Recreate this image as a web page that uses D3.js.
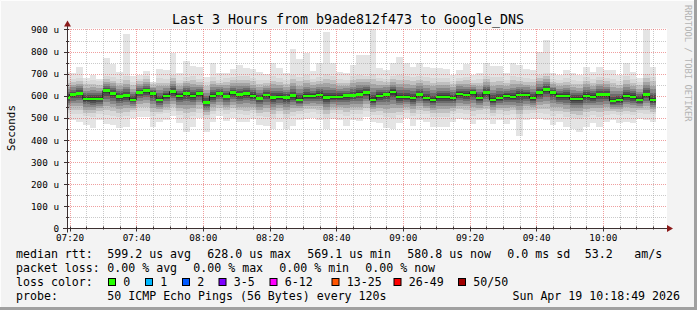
<!DOCTYPE html>
<html lang="en">
<head>
<meta charset="UTF-8">
<title>Last 3 Hours from b9ade812f473 to Google_DNS</title>
<script src="https://cdn.jsdelivr.net/npm/d3@7/dist/d3.min.js"></script>
<style>
  html, body { margin: 0; background: #f3f3f3; }
  svg { display: block; }
  text { font-family: 'DejaVu Sans Mono', monospace; fill: #000; }
</style>
</head>
<body>
<script>
  // canvas
  const width = 697
  const height = 310
  const plot = { left: 67, right: 667, top: 28.5, bottom: 228.5 }

  // median rtt per 2-minute slot (microseconds), first slot is partial
  const median = [
    591.7,
    605.3, 611.3, 585.7, 585.7, 585.7, 623.4, 609.8, 596.3, 600.8, 581.0,
    614.3, 623.4, 609.8, 581.0, 599.3, 618.9, 599.3, 609.8, 599.3, 609.8,
    569.1, 599.3, 609.8, 596.3, 614.3, 605.3, 609.8, 599.3, 587.2, 603.8,
    591.7, 594.7, 591.7, 600.8, 581.0, 599.3, 599.3, 603.8, 591.7, 594.7,
    594.7, 600.8, 600.8, 606.8, 614.3, 581.0, 599.3, 605.3, 617.4, 594.7,
    594.7, 590.2, 605.3, 590.2, 581.0, 594.7, 594.7, 590.2, 608.3, 603.8,
    614.3, 590.2, 614.3, 581.0, 590.2, 599.3, 594.7, 603.8, 603.8, 590.2,
    614.3, 628.0, 614.3, 599.3, 599.3, 585.7, 585.7, 599.3, 594.7, 605.3,
    605.3, 576.6, 581.0, 599.3, 594.7, 581.0, 605.3, 580.8
  ]
  // slowest ping of each slot
  const pingMax = [
    709,
    702, 732, 679, 694, 675, 773, 742, 709, 878, 690,
    694, 714, 664, 720, 717, 795, 705, 759, 735, 732,
    687, 747, 702, 705, 720, 739, 727, 720, 709, 699,
    750, 724, 705, 810, 765, 795, 714, 747, 890, 747,
    709, 705, 739, 785, 785, 905, 724, 717, 747, 777,
    750, 732, 747, 732, 727, 727, 720, 694, 717, 742,
    694, 702, 750, 735, 735, 702, 747, 739, 720, 717,
    800, 853, 702, 694, 717, 702, 694, 732, 709, 732,
    717, 717, 694, 750, 709, 679, 905, 732
  ]
  // upper edge of the dense smoke
  const pingHi = [
    672,
    676, 680, 668, 672, 666, 690, 684, 675, 688, 664,
    678, 688, 662, 680, 674, 695, 672, 684, 690, 676,
    664, 686, 672, 680, 684, 690, 688, 682, 672, 670,
    688, 680, 670, 694, 686, 692, 676, 684, 698, 688,
    676, 672, 690, 694, 690, 700, 682, 676, 690, 692,
    688, 684, 690, 684, 680, 682, 680, 668, 682, 686,
    670, 676, 690, 684, 684, 672, 688, 684, 680, 678,
    696, 704, 674, 670, 680, 672, 668, 686, 676, 686,
    680, 678, 668, 690, 676, 664, 700, 686
  ]
  // lower edge of the dense smoke
  const pingLo = [
    522,
    520, 516, 508, 504, 520, 512, 510, 504, 508, 526,
    532, 530, 508, 516, 522, 530, 514, 500, 510, 524,
    498, 516, 530, 518, 526, 516, 514, 522, 508, 506,
    500, 516, 500, 508, 520, 524, 528, 520, 500, 522,
    520, 510, 520, 516, 530, 514, 512, 502, 500, 512,
    524, 508, 520, 516, 506, 506, 506, 516, 522, 520,
    510, 520, 520, 510, 520, 512, 520, 496, 520, 522,
    522, 520, 508, 516, 506, 500, 496, 506, 514, 506,
    514, 520, 512, 516, 512, 522, 520, 516
  ]
  // fastest ping of each slot
  const pingMin = [
    491,
    491, 483, 468, 456, 491, 471, 468, 453, 461, 498,
    505, 506, 461, 480, 491, 509, 476, 435, 461, 498,
    438, 483, 509, 486, 501, 483, 483, 494, 468, 464,
    448, 483, 448, 464, 491, 495, 501, 491, 448, 495,
    491, 465, 491, 488, 506, 483, 476, 453, 448, 476,
    498, 464, 491, 483, 458, 458, 458, 483, 495, 491,
    473, 491, 491, 473, 491, 473, 491, 420, 491, 495,
    495, 491, 468, 483, 458, 448, 435, 458, 476, 458,
    480, 491, 476, 483, 476, 495, 491, 483
  ]

  const firstSlot = Date.UTC(2026, 3, 19, 7, 18)
  const stepMs = 120 * 1000
  const yTicks = [0, 100, 200, 300, 400, 500, 600, 700, 800, 900]

  const lossColors = ['#26ff00', '#00b8ff', '#0059ff', '#7e00ff', '#ff00ff', '#ff5500', '#ff0000', '#a10000']
  const lossLabels = ['0', '1', '2', '3-5', '6-12', '13-25', '26-49', '50/50']
  const lossSwatchX = [108.5, 145.5, 182.5, 219, 270, 332, 394, 458.5]

  const rttStats = ['599.2 us avg', '628.0 us max', '569.1 us min', '580.8 us now', '0.0 ms sd', '53.2', 'am/s']
  const rttStatX = [107.3, 207.3, 307.3, 407.3, 507.3, 584.7, 634.3]
  const lossStats = ['0.00 % avg', '0.00 % max', '0.00 % min', '0.00 % now']
  const lossStatX = [107.3, 193.3, 279.3, 365.3]

  const svg = d3.select('body').append('svg')
    .attr('width', width)
    .attr('height', height)

  // background and bevel frame
  svg.append('rect').attr('width', width).attr('height', height).attr('fill', '#f3f3f3')
  svg.append('path').attr('d', `M0.5,${height} V0.5 H${width}`)
    .attr('fill', 'none').attr('stroke', '#fdfdfd')
  svg.append('path').attr('d', `M0,${height - 1.5} H${width - 1.5} V0`)
    .attr('fill', 'none').attr('stroke', '#a0a0a0').attr('stroke-width', 3)

  // plot canvas
  svg.append('rect')
    .attr('x', plot.left).attr('y', plot.top)
    .attr('width', plot.right - plot.left).attr('height', plot.bottom - plot.top)
    .attr('fill', '#fff')

  // scales
  const xScale = d3.scaleUtc()
    .domain([Date.UTC(2026, 3, 19, 7, 19, 15), Date.UTC(2026, 3, 19, 10, 19, 15)])
    .range([plot.left, plot.right])

  const yScale = d3.scaleLinear()
    .domain([0, 904.5])
    .range([plot.bottom, plot.top])

  const slotX0 = i => Math.max(plot.left, xScale(firstSlot + i * stepMs))
  const slotX1 = i => xScale(firstSlot + (i + 1) * stepMs)
  const yClip = v => Math.max(plot.top, yScale(v))

  // smoke: outer spread, then denser shades toward the median
  const smoke = svg.append('g').attr('shape-rendering', 'crispEdges')
  smoke.selectAll('.outer')
    .data(median)
    .enter()
    .append('rect')
    .attr('x', (d, i) => slotX0(i))
    .attr('width', (d, i) => slotX1(i) - slotX0(i))
    .attr('y', (d, i) => yClip(pingMax[i]))
    .attr('height', (d, i) => yScale(pingMin[i]) - yClip(pingMax[i]))
    .attr('fill', '#e4e4e4')

  const shades = [
    { f: 1.0, c: '#d8d8d8' },
    { f: 0.8, c: '#c0c0c0' },
    { f: 0.62, c: '#a4a4a4' },
    { f: 0.46, c: '#888888' },
    { f: 0.32, c: '#6c6c6c' },
    { f: 0.2, c: '#505050' },
    { f: 0.1, c: '#3a3a3a' }
  ]
  shades.forEach(s => {
    smoke.append('g').selectAll('rect')
      .data(median)
      .enter()
      .append('rect')
      .attr('x', (d, i) => slotX0(i))
      .attr('width', (d, i) => slotX1(i) - slotX0(i))
      .attr('y', (d, i) => yScale(d + s.f * (pingHi[i] - d)))
      .attr('height', (d, i) => yScale(d - s.f * (d - pingLo[i])) - yScale(d + s.f * (pingHi[i] - d)))
      .attr('fill', s.c)
  })

  // grid (drawn over the data, like rrdtool)
  const grid = svg.append('g').attr('shape-rendering', 'crispEdges')
  const minorX = d3.utcMinute.every(5).range(xScale.domain()[0], xScale.domain()[1])
  const majorX = d3.utcMinute.every(20).range(xScale.domain()[0], xScale.domain()[1])
  const minorY = d3.range(50, 901, 100)

  grid.selectAll('.vminor')
    .data(minorX.filter(t => t.getUTCMinutes() % 20 !== 0))
    .enter().append('line')
    .attr('x1', d => Math.round(xScale(d)) + 0.5).attr('x2', d => Math.round(xScale(d)) + 0.5)
    .attr('y1', plot.top).attr('y2', plot.bottom)
    .attr('stroke', 'rgba(150,150,150,0.5)').attr('stroke-dasharray', '1,1')
  grid.selectAll('.hminor')
    .data(minorY)
    .enter().append('line')
    .attr('x1', plot.left).attr('x2', plot.right)
    .attr('y1', d => Math.round(yScale(d)) + 0.5).attr('y2', d => Math.round(yScale(d)) + 0.5)
    .attr('stroke', 'rgba(150,150,150,0.5)').attr('stroke-dasharray', '1,1')
  grid.selectAll('.vmajor')
    .data(majorX)
    .enter().append('line')
    .attr('x1', d => Math.round(xScale(d)) + 0.5).attr('x2', d => Math.round(xScale(d)) + 0.5)
    .attr('y1', plot.top).attr('y2', plot.bottom)
    .attr('stroke', 'rgba(224,64,64,0.5)').attr('stroke-dasharray', '1,1')
  grid.selectAll('.hmajor')
    .data(yTicks.filter(d => d > 0))
    .enter().append('line')
    .attr('x1', plot.left).attr('x2', plot.right)
    .attr('y1', d => Math.round(yScale(d)) + 0.5).attr('y2', d => Math.round(yScale(d)) + 0.5)
    .attr('stroke', 'rgba(224,64,64,0.5)').attr('stroke-dasharray', '1,1')

  // median step line
  const steps = median.map((d, i) => [slotX0(i), yScale(d)])
  steps.push([slotX1(median.length - 1), yScale(median[median.length - 1])])
  svg.append('path')
    .attr('d', d3.line().curve(d3.curveStepAfter)(steps))
    .attr('fill', 'none')
    .attr('stroke', '#202020')
    .attr('stroke-width', 1)

  // loss-coloured median marks (no loss -> green)
  svg.append('g').attr('shape-rendering', 'crispEdges')
    .selectAll('rect')
    .data(median)
    .enter()
    .append('rect')
    .attr('x', (d, i) => slotX0(i))
    .attr('width', (d, i) => slotX1(i) - slotX0(i))
    .attr('y', d => yScale(d) - 1.2)
    .attr('height', 2.4)
    .attr('fill', lossColors[0])

  // axes
  const axisColor = '#3c3030'
  svg.append('line')
    .attr('x1', plot.left - 4).attr('x2', plot.right + 3)
    .attr('y1', plot.bottom).attr('y2', plot.bottom)
    .attr('stroke', axisColor)
  svg.append('line')
    .attr('x1', plot.left + 0.5).attr('x2', plot.left + 0.5)
    .attr('y1', plot.bottom + 4).attr('y2', plot.top - 4)
    .attr('stroke', axisColor)
  svg.append('path')
    .attr('d', `M${plot.right + 6},${plot.bottom} l-6,-3.5 v7 z`)
    .attr('fill', '#8b1a1a')
  svg.append('path')
    .attr('d', `M${plot.left + 0.5},${plot.top - 8} l-3.5,6 h7 z`)
    .attr('fill', '#8b1a1a')

  // small ticks on the axes
  svg.append('g').selectAll('line')
    .data(minorX)
    .enter().append('line')
    .attr('x1', d => Math.round(xScale(d)) + 0.5).attr('x2', d => Math.round(xScale(d)) + 0.5)
    .attr('y1', plot.bottom - 2).attr('y2', d => plot.bottom + (d.getUTCMinutes() % 20 === 0 ? 3 : 1))
    .attr('stroke', axisColor)
  svg.append('g').selectAll('line')
    .data(d3.range(50, 901, 50))
    .enter().append('line')
    .attr('x1', d => plot.left - (d % 100 === 0 ? 3 : 1)).attr('x2', plot.left + 2)
    .attr('y1', d => Math.round(yScale(d)) + 0.5).attr('y2', d => Math.round(yScale(d)) + 0.5)
    .attr('stroke', axisColor)

  // tick labels
  const yAxis = d3.axisLeft(yScale)
    .tickValues(yTicks)
    .tickSize(0)
    .tickPadding(8)
    .tickFormat(d => d === 0 ? '0' : `${d} u`)
  const gy = svg.append('g').attr('transform', `translate(${plot.left}, 0)`).call(yAxis)
  gy.select('.domain').remove()
  gy.selectAll('text').style('font-family', "'DejaVu Sans Mono', monospace").style('font-size', '9.3px').attr('fill', '#000')

  const xAxis = d3.axisBottom(xScale)
    .tickValues(majorX)
    .tickSize(0)
    .tickPadding(6)
    .tickFormat(d3.utcFormat('%H:%M'))
  const gx = svg.append('g').attr('transform', `translate(0, ${plot.bottom})`).call(xAxis)
  gx.select('.domain').remove()
  gx.selectAll('text').style('font-family', "'DejaVu Sans Mono', monospace").style('font-size', '9.3px').attr('fill', '#000')

  // title and side texts
  svg.append('text')
    .attr('x', 348).attr('y', 23.5)
    .attr('text-anchor', 'middle')
    .style('font-size', '13.3px')
    .text('Last 3 Hours from b9ade812f473 to Google_DNS')

  svg.append('text')
    .attr('transform', 'translate(11, 128) rotate(-90)')
    .attr('text-anchor', 'middle')
    .attr('dominant-baseline', 'central')
    .style('font-size', '10.9px')
    .text('Seconds')

  svg.append('text')
    .attr('transform', 'translate(687.5, 5) rotate(90)')
    .attr('dominant-baseline', 'central')
    .style('font-size', '8.8px')
    .style('fill', '#b4b4b4')
    .text('RRDTOOL / TOBI OETIKER')

  // legend
  const legend = svg.append('g').style('font-size', '11.6px')
  const rowY = [258.3, 272.2, 286.4, 300.4]

  legend.append('text').attr('x', 16).attr('y', rowY[0]).text('median rtt:')
  rttStats.forEach((s, i) => legend.append('text').attr('x', rttStatX[i]).attr('y', rowY[0]).text(s))

  legend.append('text').attr('x', 16).attr('y', rowY[1]).text('packet loss:')
  lossStats.forEach((s, i) => legend.append('text').attr('x', lossStatX[i]).attr('y', rowY[1]).text(s))

  legend.append('text').attr('x', 16).attr('y', rowY[2]).text('loss color:')
  lossColors.forEach((c, i) => {
    legend.append('rect')
      .attr('x', lossSwatchX[i]).attr('y', 278.5)
      .attr('width', 7).attr('height', 7)
      .attr('fill', c).attr('stroke', '#000')
    legend.append('text').attr('x', lossSwatchX[i] + 14.8).attr('y', rowY[2]).text(lossLabels[i])
  })

  legend.append('text').attr('x', 16).attr('y', rowY[3]).text('probe:')
  legend.append('text').attr('x', 107.3).attr('y', rowY[3]).text('50 ICMP Echo Pings (56 Bytes) every 120s')
  legend.append('text').attr('x', 680).attr('y', rowY[3]).attr('text-anchor', 'end').text('Sun Apr 19 10:18:49 2026')
</script>
</body>
</html>
